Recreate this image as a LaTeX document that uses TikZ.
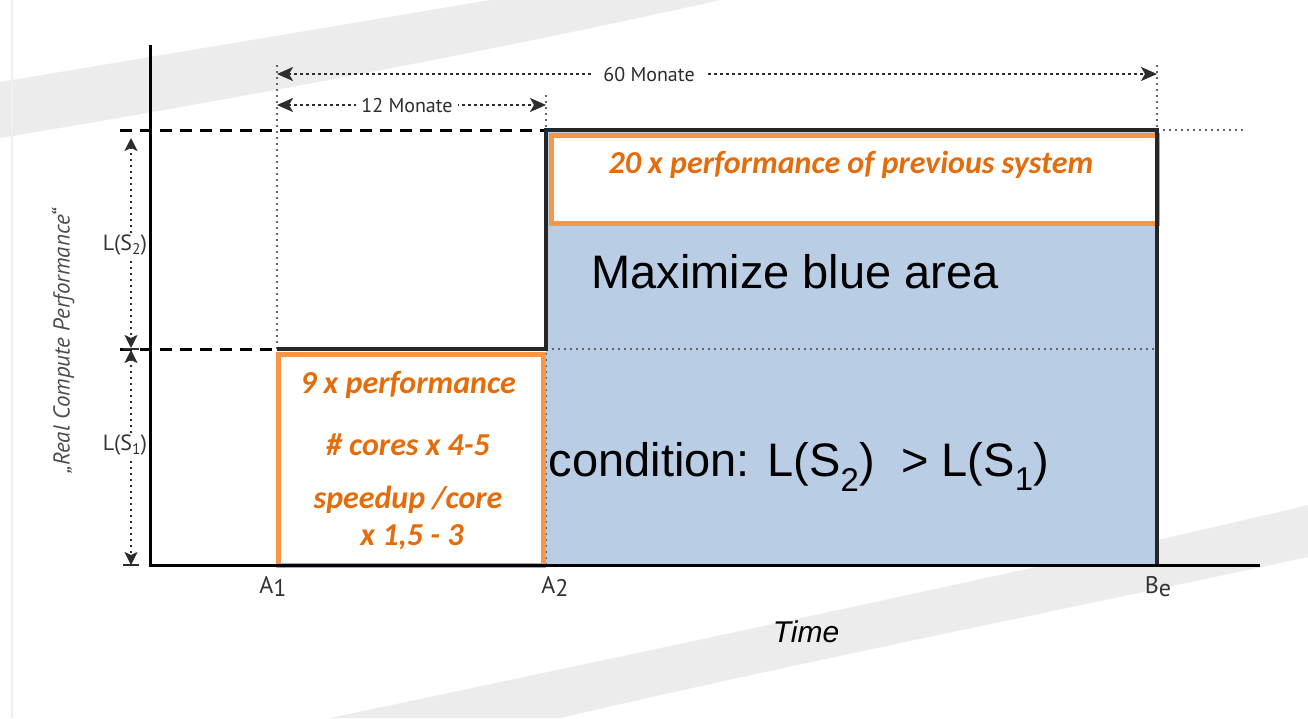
\documentclass[tikz,border=0pt]{standalone}
\usepackage{fontspec}
\setmainfont{Liberation Sans}
\newfontfamily\calib{Carlito}
\newfontfamily\lbl{PT Sans}
\usetikzlibrary{arrows.meta}

\definecolor{bluefill}{RGB}{185,205,229}
\definecolor{oline}{RGB}{247,150,70}
\definecolor{otext}{RGB}{228,108,10}
\definecolor{swoosh}{RGB}{236,236,236}
\definecolor{guide}{RGB}{100,100,100}
\definecolor{dimc}{RGB}{45,45,45}

\tikzset{
  axisline/.style={line width=3pt, black},
  stepline/.style={line width=3.2pt, black!85, line join=miter},
  levelline/.style={line width=3pt, black, dash pattern=on 12pt off 8pt},
  guideline/.style={line width=1.8pt, guide, dash pattern=on 2pt off 4pt},
  dimline/.style={line width=2pt, dimc, dash pattern=on 3pt off 3pt,
    arrows={Stealth[length=16pt,width=14pt,inset=4pt]-Stealth[length=16pt,width=14pt,inset=4pt]}},
  dimvline/.style={line width=2pt, dimc, dash pattern=on 2pt off 4pt,
    arrows={Stealth[length=13pt,width=13pt,inset=3pt]-Stealth[length=13pt,width=13pt,inset=3pt]}},
  obox/.style={draw=oline, line width=5pt, fill=white, inner sep=0pt, anchor=north west},
  otxt/.style={text=otext, font=\calib\bfseries\itshape\fontsize{32}{36}\selectfont, inner sep=0pt},
  bigtxt/.style={font=\fontsize{47}{52}\selectfont, inner sep=0pt, text=black},
  smalltxt/.style={font=\lbl\fontsize{20}{22}\selectfont, text=dimc, fill=white, inner sep=3pt},
  ticktxt/.style={font=\lbl\fontsize{22}{24}\selectfont, text=black!80, inner sep=0pt},
}

\begin{document}
\begin{tikzpicture}[x=1pt, y=-1pt]
  \useasboundingbox (0,0) rectangle (1308,718);
  \fill[white] (0,0) rectangle (1308,718);

  % light background swooshes
  \fill[swoosh] (0,82) .. controls (180,52) and (360,22) .. (490,0) -- (720,0)
     .. controls (520,45) and (260,95) .. (0,138) -- cycle;
  \fill[swoosh] (1308,505) .. controls (1100,555) and (700,640) .. (330,718)
     -- (560,718) .. controls (800,662) and (1100,602) .. (1308,557) -- cycle;
  \draw[black!6, line width=2pt] (12,0) -- (12,718);

  % key points of the chart
  \coordinate (O)  at (150,565);
  \coordinate (Ytop) at (150,45);
  \coordinate (Xend) at (1260,565);
  \coordinate (A1) at (277,565);
  \coordinate (A2) at (546,565);
  \coordinate (Be) at (1157,565);
  \coordinate (S1a) at (277,349);
  \coordinate (S1b) at (546,349);
  \coordinate (S2a) at (546,130);
  \coordinate (S2b) at (1157,130);

  % blue area of the new system
  \fill[bluefill] (S2a) rectangle (Be);

  % guide lines
  \draw[guideline] (277,65) -- (A1);
  \draw[guideline] (546,95) -- (A2);
  \draw[guideline] (1157,65) -- (S2b);
  \draw[guideline] (S1b) -- (1157,349);
  \draw[guideline] (S2b) -- (1245,130);

  % performance levels
  \draw[levelline] (120,130) -- (S2a);
  \draw[levelline] (120,349) -- (S1a);

  % orange boxes
  \node[obox, minimum width=606pt, minimum height=88pt] (topbox) at (549,133) {};
  \node[otxt] (toptxt) at (851,165) {20 x performance of previous system};
  \node[obox, minimum width=265pt, minimum height=211pt] (lowbox) at (276,352) {};
  \node[otxt] (l1) at (408,385) {9 x performance};
  \node[otxt] (l2) at (408,445) {\# cores x 4-5};
  \node[otxt] (l3) at (408,500) {speedup /core};
  \node[otxt] (l4) at (412,537) {x 1,5 - 3};

  % step of the performance curve
  \draw[stepline] (S1a) -- (S1b) -- (S2a) -- (S2b) -- (Be);

  % axes
  \draw[axisline] (Ytop) -- (O) -- (Xend);

  % time spans
  \coordinate (d60a) at (277,74);
  \coordinate (d60b) at (1157,74);
  \coordinate (d12a) at (277,105);
  \coordinate (d12b) at (546,105);
  \draw[dimline] (d60a) -- (d60b);
  \draw[dimline] (d12a) -- (d12b);
  \node[smalltxt, inner xsep=10pt] (m60) at (649,74) {60 Monate};
  \node[smalltxt, inner xsep=5pt] (m12) at (407,105) {12 Monate};

  % level spans
  \coordinate (v2a) at (131,138);
  \coordinate (v2b) at (131,348);
  \coordinate (v1a) at (131,350);
  \coordinate (v1b) at (131,565);
  \draw[dimvline] (v2a) -- (v2b);
  \draw[dimvline] (v1a) -- (v1b);
  \draw[line width=2pt, dimc] (123,349) -- (139,349);
  \draw[line width=2pt, dimc] (123,565) -- (139,565);
  \node[ticktxt, fill=white, inner sep=2pt] (ls2) at (125,245) {L(S\textsubscript{2})};
  \node[ticktxt, fill=white, inner sep=2pt] (ls1) at (125,445) {L(S\textsubscript{1})};

  % axis texts
  \node[font=\lbl\itshape\fontsize{23}{25}\selectfont, text=black!70, rotate=90] (ylab)
     at (63,341) {„Real Compute Performance“};
  \node[ticktxt, font=\lbl\fontsize{24}{26}\selectfont, anchor=north] (ta1) at (273,576) {A\raisebox{-0.3ex}{1}};
  \node[ticktxt, font=\lbl\fontsize{24}{26}\selectfont, anchor=north] (ta2) at (555,576) {A\raisebox{-0.3ex}{2}};
  \node[ticktxt, font=\lbl\fontsize{24}{26}\selectfont, anchor=north] (tbe) at (1158,576) {B\raisebox{-0.3ex}{e}};
  \node[font=\itshape\fontsize{30}{34}\selectfont, inner sep=0pt] (time) at (806,632) {Time};

  % statements
  \node[bigtxt] (maxi) at (795,272) {Maximize blue area};
  \node[bigtxt] (cond) at (799,467) {condition: L(S\textsubscript{2})\ \ > L(S\textsubscript{1})};
\end{tikzpicture}
\end{document}
